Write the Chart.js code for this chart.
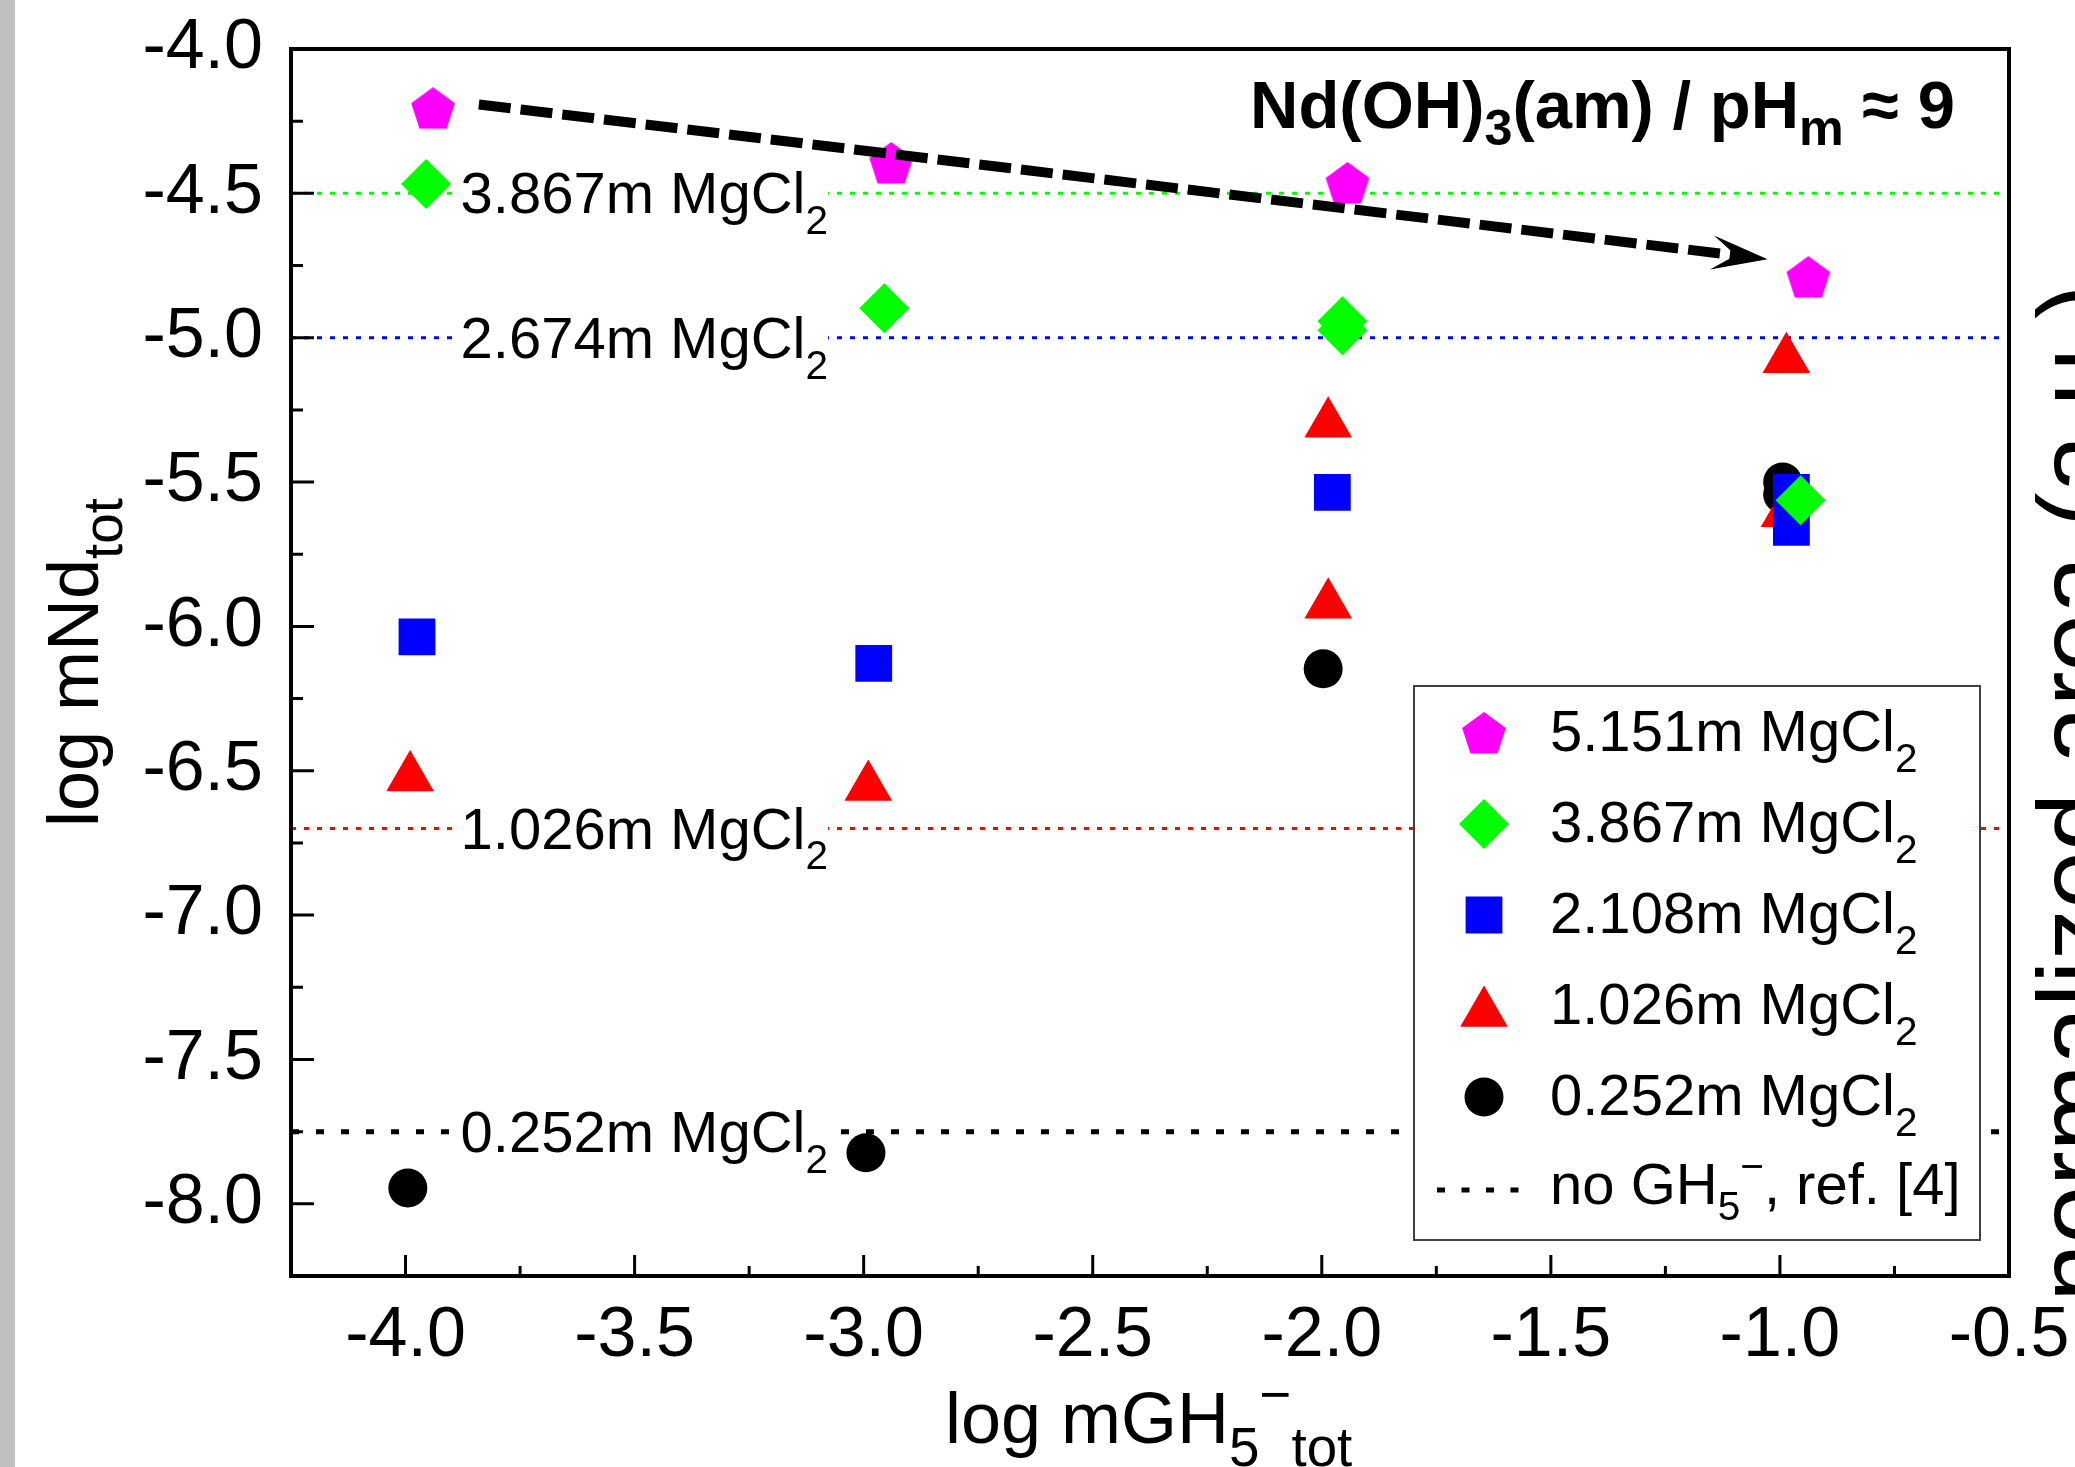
<!DOCTYPE html>
<html>
<head>
<meta charset="utf-8">
<title>log mNd tot vs log mGH5- tot</title>
<script src="https://cdn.jsdelivr.net/npm/chart.js@4.4.1/dist/chart.umd.min.js"></script>
<style>
  html, body { margin: 0; padding: 0; background: #fff; }
  #wrap { position: relative; width: 2075px; height: 1467px; }
</style>
</head>
<body>
<div id="wrap"><canvas id="chart" width="2075" height="1467"></canvas></div>
<script>
// 1. Data
const xTicks = [-4.0, -3.5, -3.0, -2.5, -2.0, -1.5, -1.0, -0.5];
const xMinor = [-3.75, -3.25, -2.75, -2.25, -1.75, -1.25, -0.75];
const yTicks = [-4.0, -4.5, -5.0, -5.5, -6.0, -6.5, -7.0, -7.5, -8.0];
const yMinor = [-4.25, -4.75, -5.25, -5.75, -6.25, -6.75, -7.25, -7.75];

// measured points, one pair of arrays per MgCl2 concentration
const x5151 = [-3.94, -2.94, -1.944, -0.938];
const y5151 = [-4.205, -4.395, -4.464, -4.79];
const x3867 = [-3.955, -2.955, -1.955, -1.955, -0.955];
const y3867 = [-4.468, -4.898, -4.943, -4.974, -5.563];
const x2108 = [-3.975, -2.978, -1.977, -0.975, -0.975];
const y2108 = [-6.036, -6.128, -5.536, -5.536, -5.657];
const x1026 = [-3.99, -2.99, -1.986, -1.986, -0.986, -0.99];
const y1026 = [-6.523, -6.556, -5.298, -5.925, -5.075, -5.608];
const x0252 = [-3.995, -2.995, -1.997, -0.994, -0.994];
const y0252 = [-7.945, -7.823, -6.147, -5.50, -5.542];

const seriesLabels = ['5.151m MgCl_2', '3.867m MgCl_2', '2.108m MgCl_2', '1.026m MgCl_2', '0.252m MgCl_2'];

// solubility without GH5- (ref. [4]), horizontal dotted lines
const refLineY = [-4.5, -5.0, -6.7, -7.75];
const refLineLabels = ['3.867m MgCl_2', '2.674m MgCl_2', '1.026m MgCl_2', '0.252m MgCl_2'];
const refLegendLabel = 'no GH_5^\u2212, ref. [4]';

// trend arrow (start, tip)
const arrowX = [-3.84, -1.027];
const arrowY = [-4.192, -4.728];

// 2. Styles
const FONT = '"Liberation Sans", Arial, Helvetica, sans-serif';
const X_MIN = -4.25, X_MAX = -0.5, Y_MIN = -8.25, Y_MAX = -4.0;
const REF_LABEL_AT = -3.88;

function makePentagon(color, R) {
    const c = document.createElement('canvas');
    const w = Math.ceil(2 * R * Math.sin(2 * Math.PI / 5)) + 2;
    const h = Math.ceil(R * (1 + Math.cos(Math.PI / 5))) + 2;
    c.width = w; c.height = h;
    const g = c.getContext('2d');
    g.beginPath();
    for (let k = 0; k < 5; k++) {
        const a = -Math.PI / 2 + k * 2 * Math.PI / 5;
        const px = w / 2 + R * Math.cos(a), py = 1 + R + R * Math.sin(a);
        if (k) g.lineTo(px, py); else g.moveTo(px, py);
    }
    g.closePath();
    g.fillStyle = color;
    g.fill();
    return c;
}

const seriesColors = ['#ff00ff', '#00ff00', '#0000ff', '#ff0000', '#000000'];
const seriesStyles = [makePentagon('#ff00ff', 23), 'rectRot', 'rect', 'triangle', 'circle'];
const seriesRadius = [22, 25, 26, 27.5, 19.5];
const refLineColors = ['#00ff00', '#0000ff', '#ff0000', '#000000'];
const refLineWidths = [3, 3, 3, 5];
const refLineDash = [[5, 8], [5, 8], [5, 8], [8, 17]];

// 3. Rich text helper: "_x" / "_{xy}" subscript, "^x" superscript
function parseRich(str) {
    const parts = [];
    let i = 0, buf = '';
    while (i < str.length) {
        const c = str[i];
        if (c === '_' || c === '^') {
            if (buf) { parts.push({ t: buf, k: 0 }); buf = ''; }
            let t;
            if (str[i + 1] === '{') {
                const j = str.indexOf('}', i + 2);
                t = str.slice(i + 2, j); i = j + 1;
            } else {
                t = str[i + 1]; i += 2;
            }
            parts.push({ t: t, k: c === '_' ? 1 : -1 });
        } else {
            buf += c; i++;
        }
    }
    if (buf) parts.push({ t: buf, k: 0 });
    return parts;
}

function drawRich(ctx, str, x, y, size, opts) {
    opts = opts || {};
    const weight = opts.bold ? 'bold ' : '';
    const subSize = size * (opts.subScale || 0.7);
    const subDy = size * (opts.subDy || 0.33);
    const supDy = size * (opts.supDy || 0.41);
    const parts = parseRich(str);
    const fontFor = p => weight + (p.k ? subSize : size) + 'px ' + FONT;
    let total = 0;
    parts.forEach(p => { ctx.font = fontFor(p); p.w = ctx.measureText(p.t).width; total += p.w; });
    let cx = opts.align === 'right' ? x - total : (opts.align === 'center' ? x - total / 2 : x);
    const x0 = cx;
    if (opts.measureOnly) return { x0: x0, total: total, parts: parts };
    ctx.textAlign = 'left';
    ctx.textBaseline = 'alphabetic';
    ctx.fillStyle = opts.color || '#000';
    parts.forEach(p => {
        ctx.font = fontFor(p);
        const dy = p.k === 1 ? subDy : (p.k === -1 ? -supDy : 0);
        ctx.fillText(p.t, cx, y + dy);
        cx += p.w;
    });
    return { x0: x0, total: total, parts: parts };
}

// 4. Datasets
const xs = [x5151, x3867, x2108, x1026, x0252];
const ys = [y5151, y3867, y2108, y1026, y0252];

const datasets = [];
refLineY.forEach((v, i) => {
    datasets.push({
        label: 'ref' + i,
        refIndex: i,
        data: [{ x: X_MIN, y: v }, { x: X_MAX, y: v }],
        showLine: true,
        borderColor: refLineColors[i],
        borderWidth: refLineWidths[i],
        borderDash: refLineDash[i],
        pointRadius: 0,
        order: 10
    });
});
seriesLabels.forEach((name, i) => {
    datasets.push({
        label: name,
        data: xs[i].map((x, j) => ({ x: x, y: ys[i][j] })),
        showLine: false,
        pointStyle: seriesStyles[i],
        pointRadius: seriesRadius[i],
        backgroundColor: seriesColors[i],
        borderColor: seriesColors[i],
        borderWidth: 0,
        order: i + 1
    });
});
datasets.push({
    label: 'arrow',
    isArrow: true,
    data: arrowX.map((x, j) => ({ x: x, y: arrowY[j] })),
    showLine: true,
    borderColor: '#000',
    borderWidth: 10,
    borderDash: [32, 10],
    pointRadius: 0,
    order: 0
});

function arrowTip(chart) {
    const sx = chart.scales.x, sy = chart.scales.y;
    const n = arrowX.length;
    return {
        x1: sx.getPixelForValue(arrowX[n - 2]), y1: sy.getPixelForValue(arrowY[n - 2]),
        x2: sx.getPixelForValue(arrowX[n - 1]), y2: sy.getPixelForValue(arrowY[n - 1])
    };
}

// 5. Decoration plugin (frame, inward ticks, labels, legend, titles)
const decor = {
    id: 'decor',
    beforeDraw(chart) {
        const ctx = chart.ctx;
        ctx.save();
        ctx.fillStyle = '#ffffff';
        ctx.fillRect(0, 0, chart.width, chart.height);
        ctx.fillStyle = '#c0c0c0';
        ctx.fillRect(0, 0, 15, chart.height);
        ctx.restore();
    },
    beforeDatasetDraw(chart, args) {
        const ds = chart.data.datasets[args.index];
        if (!ds.isArrow) return;
        // keep the shaft out of the very tip, the head covers the rest
        const a = arrowTip(chart);
        const ctx = chart.ctx;
        ctx.save();
        ctx.beginPath();
        ctx.rect(0, 0, chart.width, chart.height);
        ctx.arc(a.x2, a.y2, 22, 0, Math.PI * 2);
        ctx.clip('evenodd');
    },
    afterDatasetDraw(chart, args) {
        const ds = chart.data.datasets[args.index];
        const ctx = chart.ctx;
        if (ds.isArrow) { ctx.restore(); return; }
        if (ds.refIndex === undefined) return;
        const i = ds.refIndex;
        const sx = chart.scales.x, sy = chart.scales.y;
        const px = sx.getPixelForValue(REF_LABEL_AT);
        const py = sy.getPixelForValue(refLineY[i]);
        ctx.save();
        const m = drawRich(ctx, refLineLabels[i], px, py + 20, 58, { measureOnly: true });
        ctx.fillStyle = '#fff';
        ctx.fillRect(m.x0 - 4, py - 8, m.total + 4, 16);
        drawRich(ctx, refLineLabels[i], px, py + 20, 58, { subDy: 0.36 });
        ctx.restore();
    },
    afterDatasetsDraw(chart) {
        const ctx = chart.ctx;
        const sx = chart.scales.x, sy = chart.scales.y;
        const { left, right, top, bottom } = chart.chartArea;
        ctx.save();

        // arrow head
        const a = arrowTip(chart);
        ctx.save();
        ctx.translate(a.x2, a.y2);
        ctx.rotate(Math.atan2(a.y2 - a.y1, a.x2 - a.x1));
        ctx.beginPath();
        ctx.moveTo(0, 0);
        ctx.lineTo(-56, -17);
        ctx.lineTo(-32, 0);
        ctx.lineTo(-56, 17);
        ctx.closePath();
        ctx.fillStyle = '#000';
        ctx.fill();
        ctx.restore();

        // frame
        ctx.strokeStyle = '#000';
        ctx.lineWidth = 4;
        ctx.strokeRect(left, top, right - left, bottom - top);

        // inward ticks
        ctx.lineWidth = 3;
        ctx.beginPath();
        yTicks.forEach(v => { const p = sy.getPixelForValue(v); ctx.moveTo(left, p); ctx.lineTo(left + 23, p); });
        yMinor.forEach(v => { const p = sy.getPixelForValue(v); ctx.moveTo(left, p); ctx.lineTo(left + 12, p); });
        xTicks.forEach(v => { const p = sx.getPixelForValue(v); ctx.moveTo(p, bottom); ctx.lineTo(p, bottom - 21); });
        xMinor.forEach(v => { const p = sx.getPixelForValue(v); ctx.moveTo(p, bottom); ctx.lineTo(p, bottom - 10); });
        ctx.stroke();

        // annotation
        drawRich(ctx, 'Nd(OH)_3(am) / pH_m \u2248 9', right - 54, top + 79, 67,
            { bold: true, align: 'right', subScale: 0.75, subDy: 0.26 });

        // legend
        const bx0 = right - 595, by0 = bottom - 590, bx1 = right - 29, by1 = bottom - 36;
        ctx.fillStyle = '#fff';
        ctx.fillRect(bx0, by0, bx1 - bx0, by1 - by0);
        ctx.strokeStyle = '#404040';
        ctx.lineWidth = 2;
        ctx.strokeRect(bx0, by0, bx1 - bx0, by1 - by0);
        const mx = bx0 + 70, tx = bx0 + 136;
        seriesLabels.forEach((name, i) => {
            const ry = by0 + 47 + i * 91;
            const yc = seriesStyles[i] === 'triangle' ? ry + seriesRadius[i] * 0.25 : ry;
            ctx.fillStyle = seriesColors[i];
            ctx.strokeStyle = seriesColors[i];
            Chart.helpers.drawPoint(ctx, {
                pointStyle: seriesStyles[i], radius: seriesRadius[i], rotation: 0, borderWidth: 0
            }, mx, yc);
            drawRich(ctx, name, tx, ry + 18, 58, { subDy: 0.36 });
        });
        const ly = by0 + 47 + 5 * 91 + 2;
        ctx.strokeStyle = '#000';
        ctx.lineWidth = 5;
        ctx.setLineDash([8, 16.5]);
        ctx.beginPath();
        ctx.moveTo(bx0 + 23, ly);
        ctx.lineTo(bx0 + 106, ly);
        ctx.stroke();
        ctx.setLineDash([]);
        drawRich(ctx, refLegendLabel, tx, ly + 14, 58, { subDy: 0.28 });

        ctx.restore();
    },
    afterDraw(chart) {
        const ctx = chart.ctx;
        ctx.save();
        // x axis title
        drawRich(ctx, 'log mGH_5^\u2212_{tot}', 945, 1443, 72, { subScale: 0.76, subDy: 0.32 });
        // y axis title
        ctx.save();
        ctx.translate(98, 827);
        ctx.rotate(-Math.PI / 2);
        drawRich(ctx, 'log mNd_{tot}', 0, 0, 72, { subScale: 0.76, subDy: 0.33 });
        ctx.restore();
        // clipped label of the neighbouring panel
        ctx.save();
        ctx.translate(2110, 793);
        ctx.rotate(-Math.PI / 2);
        ctx.font = '104px ' + FONT;
        ctx.fillStyle = '#000';
        ctx.textAlign = 'center';
        ctx.textBaseline = 'alphabetic';
        ctx.fillText('normalized area (a.u.)', 0, 0);
        ctx.restore();
        ctx.restore();
    }
};

// 6. Chart
const tickFont = { family: FONT, size: 70 };

new Chart(document.getElementById('chart'), {
    type: 'scatter',
    data: { datasets: datasets },
    options: {
        responsive: false,
        animation: false,
        events: [],
        layout: { padding: { left: 0, top: 49, right: 66, bottom: 0 } },
        plugins: { legend: { display: false }, tooltip: { enabled: false } },
        scales: {
            x: {
                type: 'linear', min: X_MIN, max: X_MAX,
                afterBuildTicks: s => { s.ticks = xTicks.map(v => ({ value: v })); },
                afterFit: s => { s.height = 191; s.paddingLeft = 0; s.paddingRight = 0; },
                grid: { display: false, drawTicks: false },
                border: { display: false },
                ticks: { font: tickFont, color: '#000', padding: 19, autoSkip: false, maxRotation: 0,
                    callback: v => Number(v).toFixed(1) }
            },
            y: {
                type: 'linear', min: Y_MIN, max: Y_MAX,
                afterBuildTicks: s => { s.ticks = yTicks.map(v => ({ value: v })); },
                afterFit: s => { s.width = 291; s.paddingTop = 0; s.paddingBottom = 0; },
                grid: { display: false, drawTicks: false },
                border: { display: false },
                ticks: { font: tickFont, color: '#000', padding: 28, autoSkip: false,
                    callback: v => Number(v).toFixed(1) }
            }
        }
    },
    plugins: [decor]
});
</script>
</body>
</html>
